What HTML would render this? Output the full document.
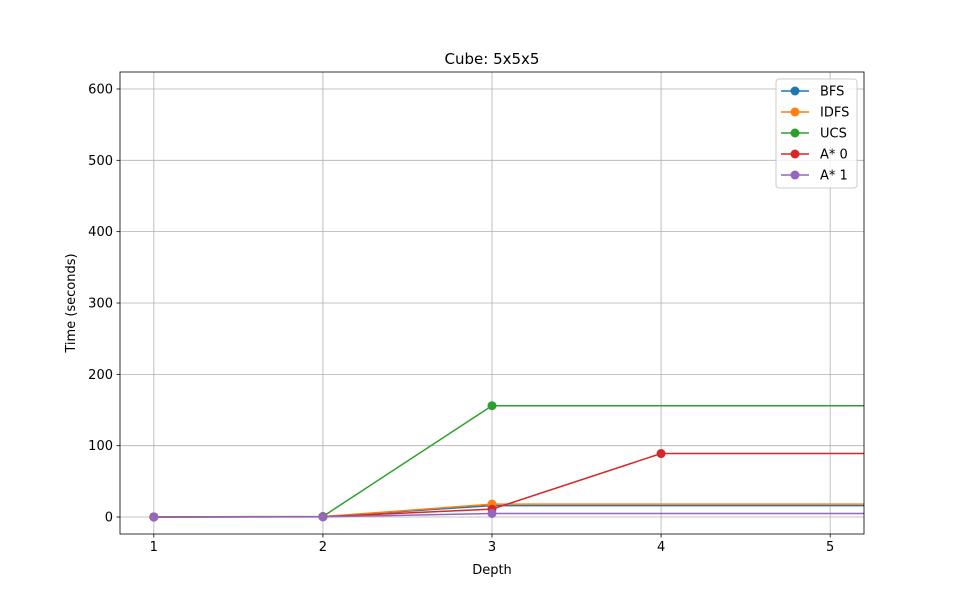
<!DOCTYPE html>
<html><head><meta charset="utf-8"><style>
body{margin:0;background:#fff;font-family:"Liberation Sans","DejaVu Sans",sans-serif;}
svg text{font-family:"DejaVu Sans","Liberation Sans",sans-serif;}
</style></head><body>
<svg id="c" width="960" height="600"></svg>
<script>
const seriesNames=["BFS","IDFS","UCS","A* 0","A* 1"];
const colors=["#1f77b4","#ff7f0e","#2ca02c","#d62728","#9467bd"];
const bfsX=[1,2,3,8], bfsY=[0.1,0.5,16,16];
const idfsX=[1,2,3,8], idfsY=[0.1,0.6,18,18];
const ucsX=[1,2,3,8], ucsY=[0.1,0.8,156,156];
const astar0X=[1,2,3,4,8], astar0Y=[0.1,0.4,11,89,89];
const astar1X=[1,2,3,8], astar1Y=[0.1,0.2,5,5];
const xTicks=[1,2,3,4,5];
const yTicks=[0,100,200,300,400,500,600];
const L=120,R=864,T=72,B=534,xmin=0.8,xmax=5.2,ymin=-23.8,ymax=623.8;
const sx=v=>L+(v-xmin)/(xmax-xmin)*(R-L);
const sy=v=>B-(v-ymin)/(ymax-ymin)*(B-T);
const NS="http://www.w3.org/2000/svg";
const svg=document.getElementById('c');
function el(t,a,p){const e=document.createElementNS(NS,t);for(const k in a)e.setAttribute(k,a[k]);(p||svg).appendChild(e);return e;}
const defs=el('defs',{});const cp=el('clipPath',{id:'clip'},defs);el('rect',{x:L,y:T,width:R-L,height:B-T},cp);
const grid=el('g',{});


xTicks.forEach(v=>{
 const l=el('line',{x1:sx(v),x2:sx(v),y1:T,y2:B,stroke:'#b0b0b0','stroke-width':0.8},grid);
 
 el('line',{x1:sx(v),x2:sx(v),y1:B,y2:B+3.5,stroke:'#000','stroke-width':0.8});
 const t=el('text',{x:sx(v),y:B+17,'text-anchor':'middle','font-size':13});t.textContent=v;
 
});
yTicks.forEach(v=>{
 const l=el('line',{x1:L,x2:R,y1:sy(v),y2:sy(v),stroke:'#b0b0b0','stroke-width':0.8},grid);
 
 el('line',{x1:L-3.5,x2:L,y1:sy(v),y2:sy(v),stroke:'#000','stroke-width':0.8});
 const t=el('text',{x:L-7,y:sy(v)+4.5,'text-anchor':'end','font-size':13});t.textContent=v;
 
});
const data=[[bfsX,bfsY],[idfsX,idfsY],[ucsX,ucsY],[astar0X,astar0Y],[astar1X,astar1Y]];
const plot=el('g',{'clip-path':'url(#clip)'});
data.forEach((d,i)=>{
 const g=el('g',{},plot);
 
 
 el('polyline',{points:d[0].map((x,j)=>sx(x)+','+sy(d[1][j])).join(' '),fill:'none',stroke:colors[i],'stroke-width':1.5},g);
 d[0].forEach((x,j)=>{const c=el('circle',{cx:sx(x),cy:sy(d[1][j]),r:4.5,fill:colors[i]},g);
  });
});
const frame=el('rect',{x:L,y:T,width:R-L,height:B-T,fill:'none',stroke:'#000','stroke-width':0.8});

const title=el('text',{x:492,y:64,'text-anchor':'middle','font-size':15});title.textContent='Cube: 5x5x5';

const xl=el('text',{x:492,y:574,'text-anchor':'middle','font-size':13});xl.textContent='Depth';

const yl=el('text',{x:75,y:303,'text-anchor':'middle','font-size':13,transform:'rotate(-90 75 303)'});yl.textContent='Time (seconds)';

const lg=el('g',{});

el('rect',{x:776,y:79,width:81,height:109,rx:3,fill:'#fff','fill-opacity':0.8,stroke:'#ccc'},lg);
seriesNames.forEach((n,i)=>{
 const y=91+i*21;
 const e=el('g',{},lg);
 
 el('line',{x1:781,x2:809,y1:y,y2:y,stroke:colors[i],'stroke-width':1.5},e);
 el('circle',{cx:795,cy:y,r:4.5,fill:colors[i]},e);
 const t=el('text',{x:820,y:y+4.5,'font-size':13},e);t.textContent=n;
});
</script>
</body></html>
